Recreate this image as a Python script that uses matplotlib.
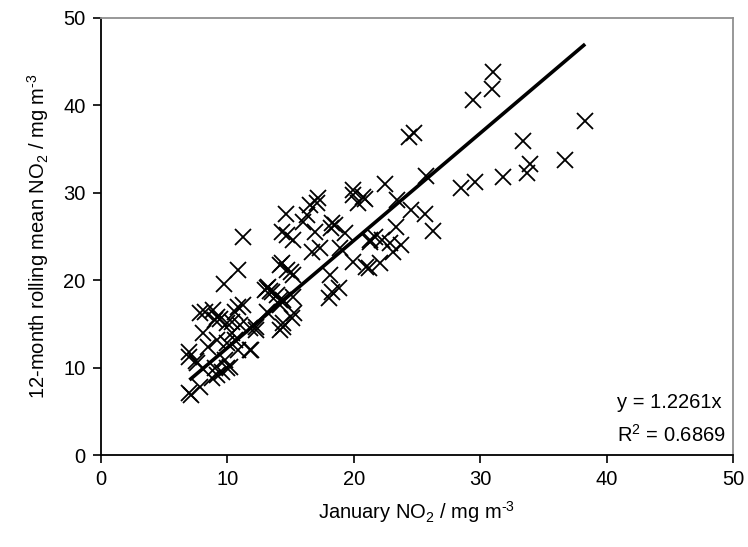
import matplotlib
matplotlib.use("Agg")
import matplotlib.pyplot as plt
import numpy as np

plt.rcParams["font.family"] = ["Liberation Sans", "DejaVu Sans"]
plt.rcParams["mathtext.fontset"] = "custom"
plt.rcParams["mathtext.rm"] = "Liberation Sans"
plt.rcParams["mathtext.it"] = "Liberation Sans:italic"
plt.rcParams["mathtext.bf"] = "Liberation Sans:bold"

# January NO2 (x) vs 12-month rolling mean NO2 (y)
jan_no2 = [
    31.0, 30.9, 29.4, 38.3, 33.4, 36.7, 33.9, 33.7, 31.8, 29.6, 28.5,
    24.4, 24.8, 25.7, 22.5, 20.9, 23.4, 24.5, 25.6, 26.3, 23.3, 21.7, 21.3,
    22.2, 22.9, 23.7, 23.1, 22.1, 21.2,
    14.6, 17.2, 17.1, 16.5, 16.3, 16.0, 16.9, 18.3, 18.5, 14.3, 14.7, 15.2,
    16.7, 17.3, 18.9, 19.3, 19.9, 20.3, 20.7, 19.9, 21.3, 21.0, 14.2, 15.0,
    14.7, 18.1, 18.3, 18.0, 18.8, 13.2, 14.2, 14.2, 15.1, 13.1, 14.4, 19.9,
    18.2,
    11.2, 10.8, 9.7, 13.0, 13.4, 7.8, 8.2, 8.9, 9.2, 9.4, 9.0, 10.8, 11.2,
    10.0, 10.4, 8.1, 11.0, 10.4, 9.2, 10.0, 10.6, 11.8, 12.3, 11.8, 10.8,
    8.5, 7.0, 7.0, 9.8, 9.0, 10.0, 9.6,
    7.0, 7.1, 7.8, 8.8, 9.2, 7.6, 7.5,
    14.3, 15.2, 13.1, 13.5, 13.9, 14.4, 15.2, 15.3, 14.2, 14.4, 10.6, 12.3,
    11.9, 10.2,
]
rolling_no2 = [
    43.8, 41.8, 40.6, 38.2, 35.9, 33.7, 33.3, 32.2, 31.8, 31.2, 30.5,
    36.4, 36.8, 31.9, 31.0, 29.3, 29.1, 28.0, 27.5, 25.6, 26.1, 24.9, 24.3,
    24.6, 24.2, 24.0, 23.2, 21.9, 21.4,
    27.5, 29.4, 28.8, 28.6, 27.4, 26.6, 25.5, 26.5, 26.3, 25.5, 25.1, 24.6,
    23.2, 23.7, 23.7, 25.4, 22.1, 28.8, 29.5, 29.7, 24.6, 21.5, 21.7, 20.9,
    21.1, 20.6, 18.6, 18.0, 19.1, 19.2, 17.7, 17.1, 15.7, 16.3, 15.1, 30.3,
    26.0,
    24.9, 21.1, 19.6, 18.9, 18.7, 16.2, 16.3, 16.6, 15.8, 15.6, 15.4, 16.9,
    17.1, 15.1, 15.2, 14.0, 14.9, 14.0, 13.1, 12.8, 13.1, 14.5, 14.6, 12.0,
    12.0, 12.3, 11.8, 11.2, 10.9, 9.9, 9.9, 9.5,
    7.1, 6.9, 7.8, 8.8, 9.1, 10.5, 10.7,
    21.9, 20.6, 19.1, 18.6, 18.3, 17.7, 18.1, 16.2, 14.3, 14.6, 16.3, 14.3,
    12.0, 10.1,
]
slope = 1.2261
r_squared = 0.6869

x = np.array(jan_no2)
y = np.array(rolling_no2)

fig = plt.figure(figsize=(7.48, 5.47), dpi=100)
ax = fig.add_axes([0.135, 0.168, 0.845, 0.800])

ax.plot(x, y, linestyle="none", marker="x", markersize=11,
        markeredgewidth=1.3, color="black")

fit_x = np.array([x.min(), x.max()])
ax.plot(fit_x, slope * fit_x, color="black", linewidth=2.6,
        solid_capstyle="butt")

ax.set_xlim(0, 50)
ax.set_ylim(0, 50)
ax.set_xticks(range(0, 51, 10))
ax.set_yticks(range(0, 51, 10))
ax.tick_params(direction="out", length=6, width=1.2, labelsize=14.5,
               colors="black", pad=5)
for side in ("left", "bottom"):
    ax.spines[side].set_linewidth(1.3)
for side in ("top", "right"):
    ax.spines[side].set_color("#909090")
    ax.spines[side].set_linewidth(1.3)

unit = r"mg m$^{\text{-3}}$"
ax.set_xlabel("January NO$_2$ / " + unit, fontsize=14.5, labelpad=7)
ax.set_ylabel("12-month rolling mean NO$_2$ / " + unit, fontsize=14.5,
              labelpad=9)

ax.text(0.816, 0.121, f"y = {slope:.4f}x", transform=ax.transAxes,
        fontsize=14.5, ha="left", va="center")
ax.text(0.816, 0.046, f"R$^2$ = {r_squared:.4f}", transform=ax.transAxes,
        fontsize=14.5, ha="left", va="center")

fig.savefig("out.png", dpi=100)
